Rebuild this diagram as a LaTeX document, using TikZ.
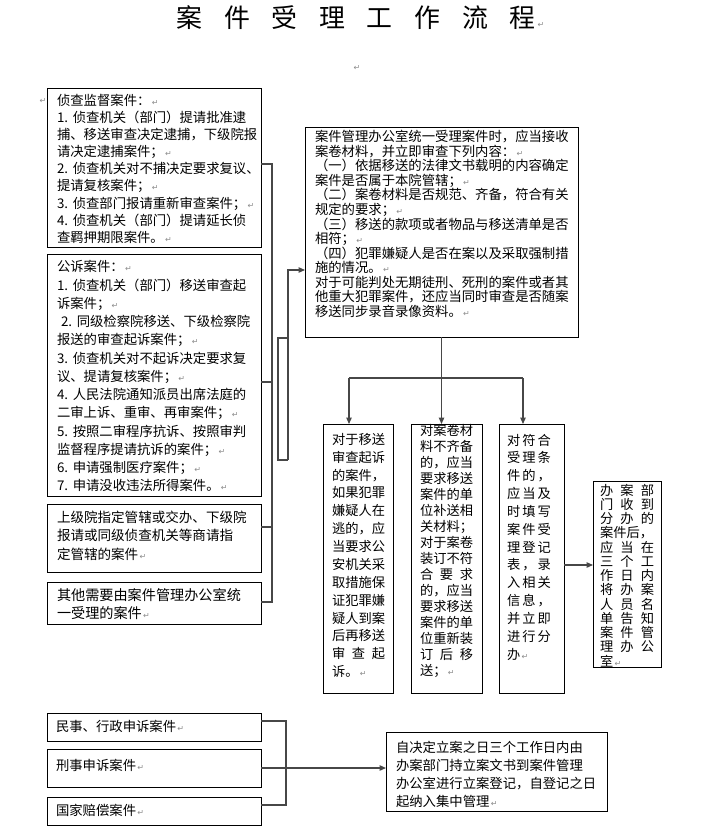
\documentclass[tikz,border=0pt]{standalone}
\usepackage{fontspec}
\setmainfont{Noto Sans CJK SC}
\newfontfamily\dvfont{DejaVu Sans}
\usetikzlibrary{arrows.meta,fit}
\newcommand\rt{{\dvfont\fontsize{8}{8}\selectfont\color{black!45}\,↵}}
\newcommand\tp{\rule{0pt}{1em}}
\newcommand\nm[1]{#1.\hspace{0.35em}}
\newcommand\sprd[4]{\makebox[#1][s]{#2\hfill#3\hfill#4}}
\tikzset{
  box/.style={draw=black, line width=0.8bp, inner sep=0pt, outer sep=0pt},
  txt/.style={anchor=north west, inner sep=0pt, outer sep=0pt, align=left, text=black},
  line/.style={draw=black!72, line width=1.2bp},
  arr/.style={line, -{Triangle[length=6.5bp,width=5.5bp]}},
  pmark/.style={inner sep=0pt, font=\dvfont\fontsize{8}{8}\selectfont, text=black!45},
}
\begin{document}
\begin{tikzpicture}[x=1bp,y=-1bp]
\path[use as bounding box, fill=white] (0,0) rectangle (706,836);

% title
\node[inner sep=0pt, font=\fontsize{26}{26}\selectfont] (T) at (356,18)
  {案\hspace{21.7bp}件\hspace{21.7bp}受\hspace{21.7bp}理\hspace{21.7bp}工\hspace{21.7bp}作\hspace{21.7bp}流\hspace{21.7bp}程};
\node[pmark] (T2) at (541,25) {↵};
\node[pmark] (M1) at (357,68) {↵};
\node[pmark] (M2) at (43,101) {↵};

% left column boxes
\node[box, fit={(47,88) (261,247)}] (A) {};
\node[txt, font=\fontsize{13.4}{17.25}\selectfont] (At) at (57,91.7) {\tp 侦查监督案件：\rt\\
\nm{1}侦查机关（部门）提请批准逮\\
捕、移送审查决定逮捕，下级院报\\
请决定逮捕案件；\rt\\
\nm{2}侦查机关对不捕决定要求复议、\\
提请复核案件；\rt\\
\nm{3}侦查部门报请重新审查案件；\rt\\
\nm{4}侦查机关（部门）提请延长侦\\
查羁押期限案件。\rt};

\node[box, fit={(47,254) (261,496)}] (B) {};
\node[txt, font=\fontsize{13.4}{18.33}\selectfont] (Bt) at (57,258.4) {\tp 公诉案件：\rt\\
\nm{1}侦查机关（部门）移送审查起\\
诉案件；\rt\\
\hspace{4bp}\nm{2}同级检察院移送、下级检察院\\
报送的审查起诉案件；\rt\\
\nm{3}侦查机关对不起诉决定要求复\\
议、提请复核案件；\rt\\
\nm{4}人民法院通知派员出席法庭的\\
二审上诉、重审、再审案件；\rt\\
\nm{5}按照二审程序抗诉、按照审判\\
监督程序提请抗诉的案件；\rt\\
\nm{6}申请强制医疗案件；\rt\\
\nm{7}申请没收违法所得案件。\rt};

\node[box, fit={(47,504) (261,572)}] (H4) {};
\node[txt, font=\fontsize{13.6}{18.5}\selectfont] (H4t) at (57,508.6) {\tp 上级院指定管辖或交办、下级院\\
报请或同级侦查机关等商请指\\
定管辖的案件\rt};

\node[box, fit={(47,582) (261,624)}] (H5) {};
\node[txt, font=\fontsize{14.2}{18}\selectfont] (H5t) at (57,586.2) {\tp 其他需要由案件管理办公室统\\
一受理的案件\rt};

% bus on the left
\coordinate (busTop) at (272,164);
\coordinate (busB) at (272,382);
\coordinate (busH) at (272,527);
\coordinate (busBot) at (272,602);
\draw[line] (busTop -| A.east) -- (busTop) -- (busBot) -- (busBot -| H5.east);
\draw[line] (busB -| B.east) -- (busB);
\draw[line] (busH -| H4.east) -- (busH);
\coordinate (k1) at (278,338);
\coordinate (k2) at (278,460);
\coordinate (k3) at (288,460);
\coordinate (k4) at (288,338);
\coordinate (k5) at (288,270);
\draw[line] (k4) -- (k1) -- (k2) -- (k3);

% middle box
\node[box, fit={(305,127) (578,337)}] (C) {};
\node[txt, font=\fontsize{13.4}{14.6}\selectfont] (Ct) at (315,128.4) {\tp 案件管理办公室统一受理案件时，应当接收\\
案卷材料，并立即审查下列内容：\rt\\
（一）依据移送的法律文书载明的内容确定\\
案件是否属于本院管辖；\rt\\
（二）案卷材料是否规范、齐备，符合有关\\
规定的要求；\rt\\
（三）移送的款项或者物品与移送清单是否\\
相符；\rt\\
（四）犯罪嫌疑人是否在案以及采取强制措\\
施的情况。\rt\\
对于可能判处无期徒刑、死刑的案件或者其\\
他重大犯罪案件，还应当同时审查是否随案\\
移送同步录音录像资料。\rt};
\draw[arr] (k3) -- (k5) -- (k5 -| C.west);

% three narrow boxes
\node[box, fit={(323,424) (393,693)}] (D) {};
\node[txt, font=\fontsize{13.3}{17.95}\selectfont] (Dt) at (332,431) {\tp 对于移送\\审查起诉\\的案件，\\如果犯罪\\嫌疑人在\\逃的，应\\当要求公\\安机关采\\取措施保\\证犯罪嫌\\疑人到案\\后再移送\\\sprd{53.2bp}{审}{查}{起}\\诉。\rt};

\node[box, fit={(411,424) (482,693)}] (E) {};
\node[txt, font=\fontsize{13.3}{16.1}\selectfont] (Et) at (420,421.9) {\tp 对案卷材\\料不齐备\\的，应当\\要求移送\\案件的单\\位补送相\\关材料；\\对于案卷\\装订不符\\\sprd{53.2bp}{合}{要}{求}\\的，应当\\要求移送\\案件的单\\位重新装\\\sprd{53.2bp}{订}{后}{移}\\送；\rt};

\node[box, fit={(499,424) (564,693)}] (F) {};
\node[txt, font=\fontsize{13.3}{17.9}\selectfont] (Ft) at (507,431.8) {\tp\sprd{44bp}{对}{符}{合}\\\sprd{44bp}{受}{理}{条}\\\sprd{44bp}{件}{的}{，}\\\sprd{44bp}{应}{当}{及}\\\sprd{44bp}{时}{填}{写}\\\sprd{44bp}{案}{件}{受}\\\sprd{44bp}{理}{登}{记}\\\sprd{44bp}{表}{，}{录}\\\sprd{44bp}{入}{相}{关}\\\sprd{44bp}{信}{息}{，}\\\sprd{44bp}{并}{立}{即}\\\sprd{44bp}{进}{行}{分}\\办\rt};

\coordinate (jl) at (349,378);
\coordinate (jr) at (523,378);
\draw[arr] (C.south) -- (C.south |- E.north);
\draw[line] (jl) -- (jr);
\draw[arr] (jl) -- (jl |- D.north);
\draw[arr] (jr) -- (jr |- F.north);

% right box
\node[box, fit={(593,481) (661,667)}] (G) {};
\node[txt, font=\fontsize{13.3}{14.3}\selectfont] (Gt) at (600,481.8) {\tp\sprd{54bp}{办}{案}{部}\\\sprd{54bp}{门}{收}{到}\\\sprd{54bp}{分}{办}{的}\\案件后，\\\sprd{54bp}{应}{当}{在}\\\sprd{54bp}{三}{个}{工}\\\sprd{54bp}{作}{日}{内}\\\sprd{54bp}{将}{办}{案}\\\sprd{54bp}{人}{员}{名}\\\sprd{54bp}{单}{告}{知}\\\sprd{54bp}{案}{件}{管}\\\sprd{54bp}{理}{办}{公}\\室\rt};
\coordinate (fg) at (564,565);
\draw[arr] (fg -| F.east) -- (fg -| G.west);

% bottom part
\node[box, fit={(47,713) (261,741)}] (H1) {};
\node[txt, font=\fontsize{13.4}{18}\selectfont] (H1t) at (56,717.7) {\tp 民事、行政申诉案件\rt};
\node[box, fit={(47,749) (261,787)}] (H2) {};
\node[txt, font=\fontsize{13.4}{18}\selectfont] (H2t) at (56,756.7) {\tp 刑事申诉案件\rt};
\node[box, fit={(47,797) (261,825)}] (H3) {};
\node[txt, font=\fontsize{13.4}{18}\selectfont] (H3t) at (56,801.7) {\tp 国家赔偿案件\rt};

\node[box, fit={(386,732) (607,811)}] (I) {};
\node[txt, font=\fontsize{13.4}{18.3}\selectfont] (It) at (396,738.7) {\tp 自决定立案之日三个工作日内由\\
办案部门持立案文书到案件管理\\
办公室进行立案登记，自登记之日\\
起纳入集中管理\rt};

\coordinate (m1) at (286,721);
\coordinate (m2) at (286,768);
\coordinate (m3) at (286,805);
\draw[line] (m1 -| H1.east) -- (m1) -- (m3) -- (m3 -| H3.east);
\draw[arr] (m2 -| H2.east) -- (m2 -| I.west);
\end{tikzpicture}
\end{document}
